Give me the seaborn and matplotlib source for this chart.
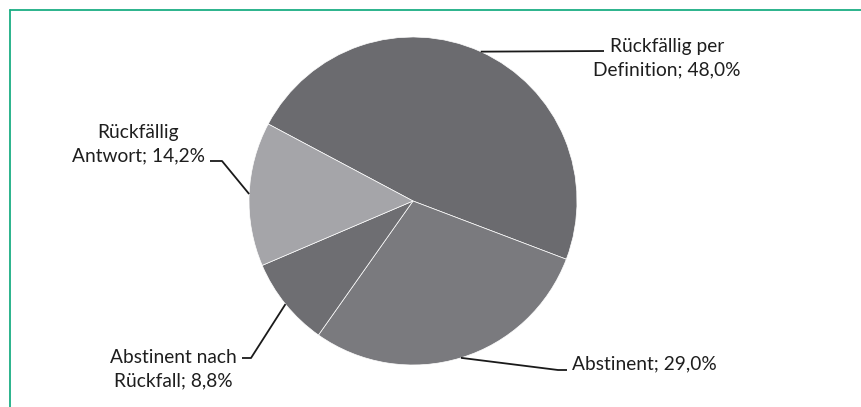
import numpy as np
import matplotlib
matplotlib.use("Agg")
import matplotlib.pyplot as plt
from matplotlib.lines import Line2D
import seaborn as sns

# Category names and shares (percent)
categories = ["Rückfällig per\nDefinition", "Abstinent", "Abstinent nach\nRückfall", "Rückfällig\nAntwort"]
shares = [48.0, 29.0, 8.8, 14.2]
slice_colors = ["#6b6b6f", "#7a7a7e", "#6e6e72", "#a5a5a9"]

sns.set_theme(style="white")
plt.rcParams["font.family"] = ["Lato", "DejaVu Sans"]

W, H = 861, 407
fig = plt.figure(figsize=(W / 100, H / 100), dpi=100)
ax = fig.add_axes([0, 0, 1, 1])

center = (413, H - 201)
radius = 164
wedges, _ = ax.pie(shares, colors=slice_colors, startangle=152, counterclock=False,
                   center=center, radius=radius,
                   wedgeprops=dict(edgecolor="white", linewidth=0.5))
ax.set_xlim(0, W)
ax.set_ylim(0, H)
ax.set_aspect("equal")
ax.axis("off")

# label layout: (elbow point, end point, text anchor, ha) in pixel coords (y down)
layout = [
    ((604, 51), (604, 51), (667, 58), "center"),
    ((558, 370), (567, 370), (572, 364), "left"),
    ((251, 358), (242, 358), (173, 369), "center"),
    ((222, 161), (210, 161), (138, 144), "center"),
]

for w, name, val, (elbow, end, anchor, ha) in zip(wedges, categories, shares, layout):
    mid = np.deg2rad((w.theta1 + w.theta2) / 2)
    sx = center[0] + radius * np.cos(mid)
    sy = center[1] + radius * np.sin(mid)
    xs = [sx, elbow[0], end[0]]
    ys = [sy, H - elbow[1], H - end[1]]
    ax.plot(xs, ys, color="#1a1a1a", lw=1.3, solid_capstyle="butt")
    label = f"{name}; {val:.1f}%".replace(".", ",")
    ax.text(anchor[0], H - anchor[1], label, ha=ha, va="center",
            multialignment="center", fontsize=13.8, color="#1e1e1e",
            linespacing=1.45)

# green frame along the top and left edges
frame_color = "#1aae84"
fig.add_artist(Line2D([9.5 / W, 1.0], [1 - 9.5 / H, 1 - 9.5 / H],
                      transform=fig.transFigure, color=frame_color, lw=1.3))
fig.add_artist(Line2D([9.5 / W, 9.5 / W], [0, 1 - 9.5 / H],
                      transform=fig.transFigure, color=frame_color, lw=1.3))

fig.savefig("out.png", dpi=100, facecolor="white")
